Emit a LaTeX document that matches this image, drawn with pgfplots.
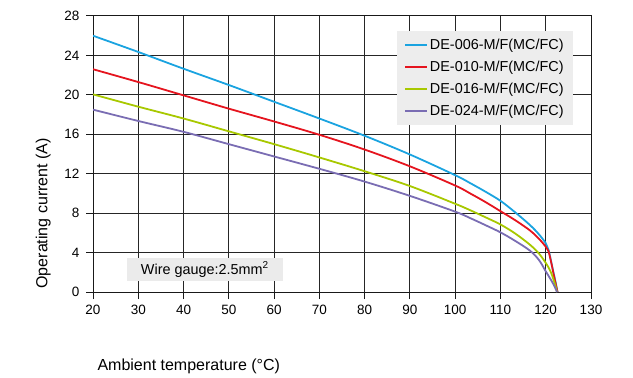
\documentclass[border=0pt]{standalone}
\usepackage{pgfplots}
\pgfplotsset{compat=1.18}
\usepackage{fontspec}
\setmainfont{Liberation Sans}
\definecolor{cblue}{HTML}{1AA3E0}
\definecolor{cred}{HTML}{E5141E}
\definecolor{cgreen}{HTML}{A8C800}
\definecolor{cpurple}{HTML}{7A6DB3}
\begin{document}
\begin{tikzpicture}
\begin{axis}[
  width=498pt, height=276pt, scale only axis,
  xmin=20, xmax=130, ymin=0, ymax=28,
  xtick={20,30,...,130}, ytick={0,4,...,28},
  grid=major, grid style={black!85, line width=1pt},
  axis line style={black!90, line width=1pt},
  tick align=outside, major tick length=7pt,
  tick style={black!90, line width=1pt},
  tick pos=left,
  ticklabel style={font=\fontsize{13.5}{16}\selectfont},
  xticklabel style={yshift=-3pt},
  yticklabel style={xshift=-3pt},
  /pgf/number format/assume math mode=true,
  legend cell align=left,
  legend style={at={(0.6104,0.9457)}, anchor=north west, fill=black!7, draw=none,
    font=\fontsize{14.4}{17}\selectfont, inner xsep=7pt, inner ysep=6pt,
    row sep=6pt, nodes={inner sep=2pt}},
  legend image code/.code={\draw[#1,sharp plot] (0pt,0pt) -- (22pt,0pt);},
]
\addplot[cblue, line width=1.8pt, smooth, tension=0.55] coordinates {(20,26.0) (30,24.35) (40,22.65) (50,21.0) (60,19.3) (70,17.6) (80,15.85) (90,13.95) (100,11.85) (103.3,11.05) (106.6,10.2) (110,9.25) (113.2,8.1) (116.5,6.8) (118.5,5.85) (120,4.95) (120.6,4.3) (121.1,3.3) (121.7,2.0) (122.2,0.95) (122.6,0)};
\addlegendentry{DE-006-M/F(MC/FC)}
\addplot[cred, line width=1.8pt, smooth, tension=0.55] coordinates {(20,22.6) (30,21.3) (40,19.95) (50,18.6) (60,17.3) (70,15.95) (80,14.45) (90,12.75) (100,10.8) (103.3,10.0) (106.6,9.15) (110,8.2) (113.2,7.3) (116.5,6.25) (118.5,5.4) (120,4.6) (120.6,4.15) (121.3,2.8) (121.9,1.45) (122.6,0)};
\addlegendentry{DE-010-M/F(MC/FC)}
\addplot[cgreen, line width=1.8pt, smooth, tension=0.55] coordinates {(20,20.05) (30,18.8) (40,17.6) (50,16.3) (60,15.0) (70,13.65) (80,12.25) (90,10.75) (100,8.95) (103.3,8.3) (106.6,7.6) (110,6.85) (113.2,5.95) (116.5,4.8) (118.5,3.9) (120,2.95) (121,2.15) (121.8,1.15) (122.5,0)};
\addlegendentry{DE-016-M/F(MC/FC)}
\addplot[cpurple, line width=1.8pt, smooth, tension=0.55] coordinates {(20,18.5) (30,17.35) (40,16.25) (50,15.0) (60,13.75) (70,12.5) (80,11.2) (90,9.75) (100,8.15) (103.3,7.5) (106.6,6.8) (110,6.05) (113.2,5.2) (116.5,4.2) (118.5,3.25) (120,2.1) (121,1.35) (121.8,0.7) (122.5,0)};
\addlegendentry{DE-024-M/F(MC/FC)}
\node[fill=black!8, minimum width=156pt, minimum height=23pt, inner sep=0pt,
  font=\fontsize{14.4}{17}\selectfont] at (axis cs:44.7,2.28) {Wire gauge:2.5mm\textsuperscript{2}};
\end{axis}
\node[anchor=base west, font=\fontsize{16}{19}\selectfont] at ([shift={(1pt,-78pt)}]current axis.south west) {Ambient temperature (°C)};
\node[rotate=90, anchor=base west, font=\fontsize{16}{19}\selectfont] at ([shift={(-45.5pt,0pt)}]current axis.south west) {Operating current (A)};
\path ([shift={(-93pt,-85pt)}]current axis.south west) rectangle ([shift={(42pt,16pt)}]current axis.north east);
\end{tikzpicture}
\end{document}
